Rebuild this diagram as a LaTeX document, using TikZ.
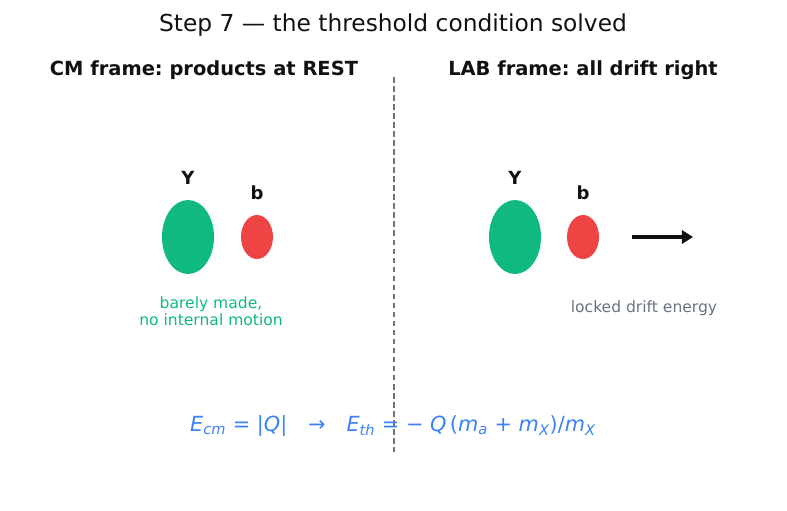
\documentclass[tikz,border=0pt]{standalone}
\usepackage{fontspec}
\setmainfont{DejaVu Sans}
\usetikzlibrary{arrows.meta}

\definecolor{verde}{HTML}{10B981}
\definecolor{rosso}{HTML}{EF4444}
\definecolor{blufo}{HTML}{3B82F6}
\definecolor{grigio}{HTML}{6B7280}
\definecolor{inchio}{HTML}{111111}

% variabile in corsivo con pedice
\newcommand{\varsub}[2]{{\itshape #1}\textsubscript{\itshape #2}}

\begin{document}
\frenchspacing
\begin{tikzpicture}[
  x=0.72pt, y=-0.72pt,
  titolo/.style={font=\fontsize{16.8}{20}\selectfont, text=inchio},
  intest/.style={font=\fontsize{14}{17}\selectfont\bfseries, text=inchio},
  lettera/.style={font=\fontsize{13}{16}\selectfont\bfseries, text=inchio},
  nota/.style={font=\fontsize{11.2}{12.5}\selectfont, align=center},
  grosso/.style={fill=verde, draw=none},
  piccolo/.style={fill=rosso, draw=none},
  divisore/.style={draw=grigio, line width=1.1pt, dash pattern=on 4pt off 2.5pt},
  freccia/.style={draw=inchio, line width=2.8pt, -{Triangle[length=8pt,width=9.5pt]}}
]

%--------------------------------------------------------------
% Cornice invisibile (proporzioni 787x510)
%--------------------------------------------------------------
\useasboundingbox (0,0) rectangle (787,510);

%--------------------------------------------------------------
% Titolo e intestazioni
%--------------------------------------------------------------
\node[titolo] (titolo) at (393,25) {Step 7 — the threshold condition solved};
\node[intest] (cm) at (204,70) {CM frame: products at REST};
\node[intest] (lab) at (583,70) {LAB frame: all drift right};

%--------------------------------------------------------------
% Linea di separazione
%--------------------------------------------------------------
\coordinate (sep su) at (394,77);
\coordinate (sep giu) at (394,452);
\draw[divisore] (sep su) -- (sep giu);

%--------------------------------------------------------------
% Prodotti: Y (grande) e b (piccolo) nei due sistemi
%--------------------------------------------------------------
\foreach \nome/\cx/\cb in {sx/188/257, dx/515/583} {
  \fill[grosso] (\cx,237) ellipse [x radius=26, y radius=37];
  \fill[piccolo] (\cb,237) ellipse [x radius=16, y radius=22];
  \node[lettera] (Y\nome) at (\cx,178) {Y};
  \node[lettera] (b\nome) at (\cb,193) {b};
}

%--------------------------------------------------------------
% Annotazioni
%--------------------------------------------------------------
\node[nota, text=verde] (fermo) at (211,311) {barely made,\\no internal motion};
\node[nota, text=grigio] (deriva) at (644,308) {locked drift energy};

\coordinate (fr da) at (632,237);
\coordinate (fr a) at (693,237);
\draw[freccia] (fr da) -- (fr a);

%--------------------------------------------------------------
% Formula finale
%--------------------------------------------------------------
\node[font=\fontsize{15}{18}\selectfont, text=blufo] (formula) at (393,426)
  {\varsub{E}{cm} = |{\itshape Q}|\quad →\quad
   \varsub{E}{th} = − {\itshape Q}\,({\itshape m}\textsubscript{\itshape a} + {\itshape m}\textsubscript{\itshape X})/{\itshape m}\textsubscript{\itshape X}};

\end{tikzpicture}
\end{document}
